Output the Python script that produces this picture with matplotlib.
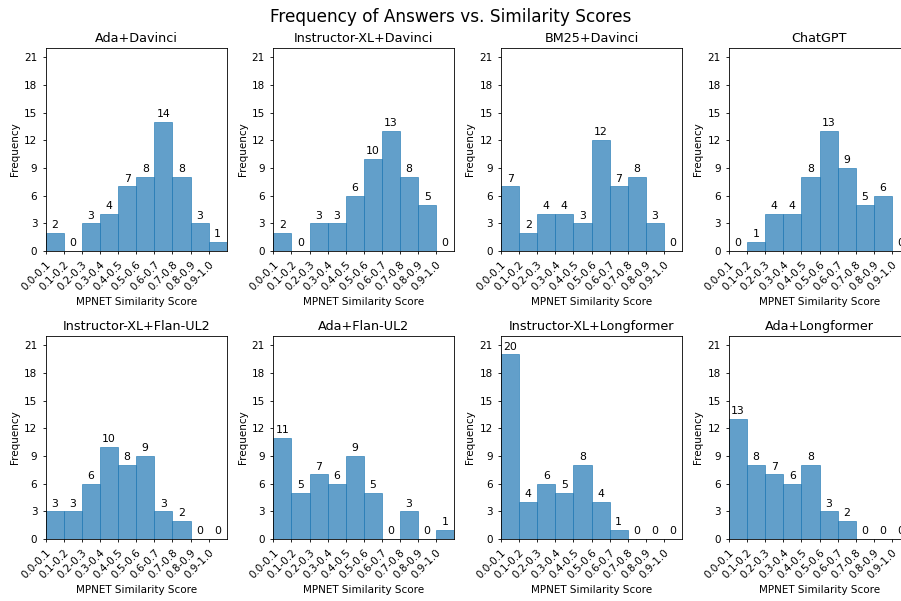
import matplotlib
matplotlib.use("Agg")
import matplotlib.pyplot as plt
import numpy as np

titles = ["Ada+Davinci", "Instructor-XL+Davinci", "BM25+Davinci", "ChatGPT",
          "Instructor-XL+Flan-UL2", "Ada+Flan-UL2", "Instructor-XL+Longformer", "Ada+Longformer"]
bin_labels = ["0.0-0.1", "0.1-0.2", "0.2-0.3", "0.3-0.4", "0.4-0.5",
              "0.5-0.6", "0.6-0.7", "0.7-0.8", "0.8-0.9", "0.9-1.0"]
ada_davinci = [2, 0, 3, 4, 7, 8, 14, 8, 3, 1]
instructor_davinci = [2, 0, 3, 3, 6, 10, 13, 8, 5, 0]
bm25_davinci = [7, 2, 4, 4, 3, 12, 7, 8, 3, 0]
chatgpt = [0, 1, 4, 4, 8, 13, 9, 5, 6, 0]
instructor_flan = [3, 3, 6, 10, 8, 9, 3, 2, 0, 0]
ada_flan = [11, 5, 7, 6, 9, 5, 0, 3, 0, 1]
instructor_longformer = [20, 4, 6, 5, 8, 4, 1, 0, 0, 0]
ada_longformer = [13, 8, 7, 6, 8, 3, 2, 0, 0, 0]
series = [ada_davinci, instructor_davinci, bm25_davinci, chatgpt,
          instructor_flan, ada_flan, instructor_longformer, ada_longformer]

bins = np.round(np.arange(0, 1.01, 0.1), 2)

W, H = 901, 601
fig = plt.figure(figsize=(W / 100, H / 100), dpi=100)
fig.suptitle("Frequency of Answers vs. Similarity Scores", fontsize=12.2, y=0.987)

lefts = [45.7, 273.3, 501.0, 729.0]
axw = 181.0
rows = [(48, 251), (336, 539)]

for i, (title, counts) in enumerate(zip(titles, series)):
    r, c = divmod(i, 4)
    top, bot = rows[r]
    ax = fig.add_axes([lefts[c] / W, 1 - bot / H, axw / W, (bot - top) / H])
    ax.hist(bins[:-1], bins=bins, weights=counts, color="C0", alpha=0.7,
            edgecolor="C0", linewidth=0.6)
    for k, v in enumerate(counts):
        ax.annotate(str(v), ((bins[k] + bins[k + 1]) / 2, v), xytext=(0, 2),
                    textcoords="offset points", ha="center", va="bottom",
                    fontsize=7.8, annotation_clip=False)
    ax.set_xlim(0, 1.0)
    ax.set_ylim(0, 22)
    ax.set_yticks(range(0, 22, 3))
    ax.set_xticks(bins[:-1])
    ax.set_xticklabels(bin_labels, rotation=45, ha="right", rotation_mode="anchor")
    ax.tick_params(labelsize=7.5, length=2.5, width=0.6)
    for s in ax.spines.values():
        s.set_linewidth(0.6)
    ax.set_title(title, fontsize=9.2, pad=4)
    ax.set_xlabel("MPNET Similarity Score", fontsize=7.5, labelpad=3)
    ax.set_ylabel("Frequency", fontsize=7.5, labelpad=3)

fig.savefig("out.png", dpi=100)
